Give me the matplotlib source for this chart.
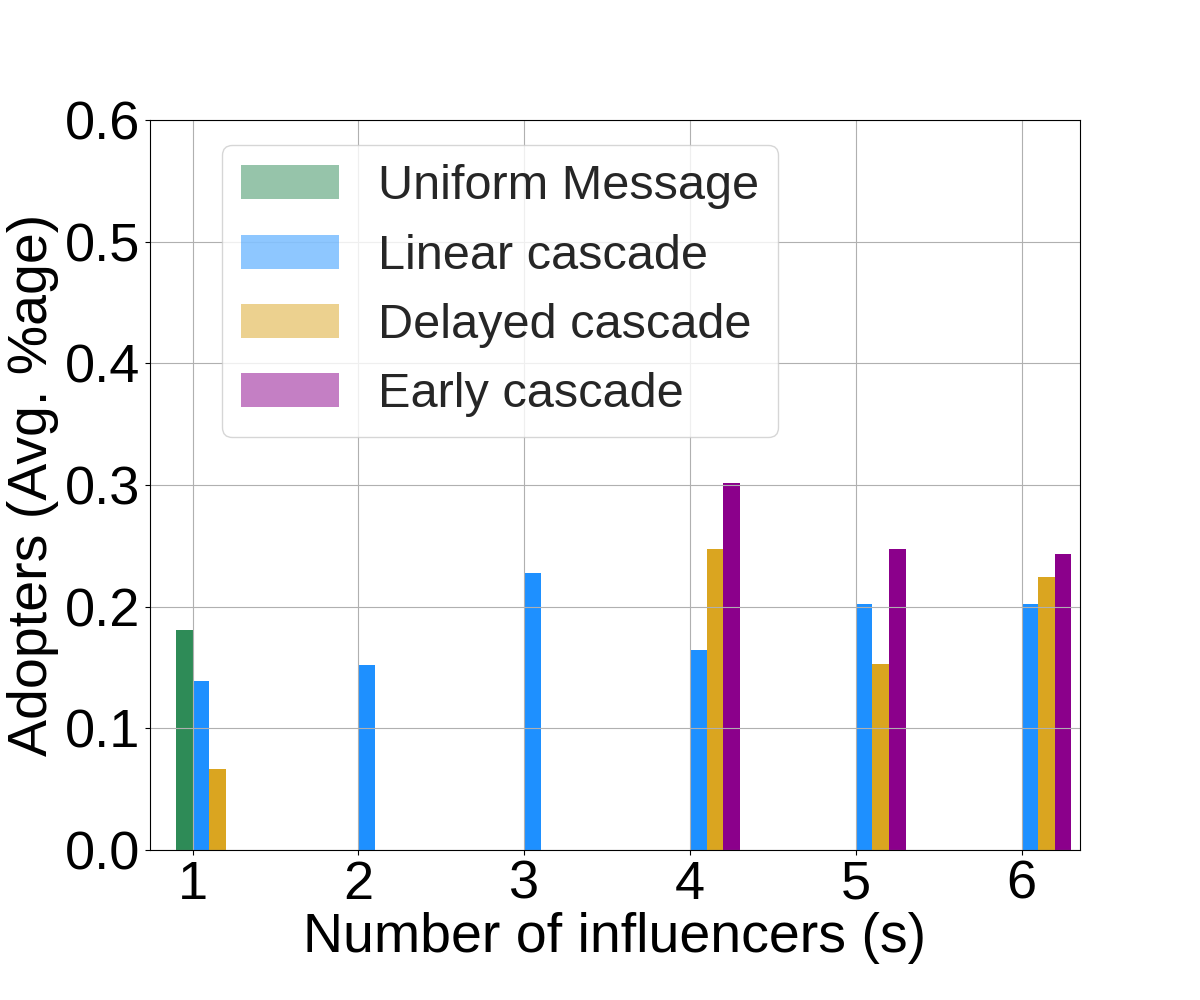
import matplotlib
matplotlib.use("Agg")
import matplotlib.pyplot as plt
from matplotlib.patches import Patch
import numpy as np

plt.rcParams['font.family'] = ['Liberation Sans', 'DejaVu Sans']

influencers = [1, 2, 3, 4, 5, 6]
uniform = [0.181, 0, 0, 0, 0, 0]
linear = [0.139, 0.152, 0.228, 0.164, 0.202, 0.202]
delayed = [0.0666, 0, 0, 0.247, 0.153, 0.224]
early = [0, 0, 0, 0.302, 0.247, 0.243]

labels = ['Uniform Message', 'Linear cascade', 'Delayed cascade', 'Early cascade']
colors = ['seagreen', 'dodgerblue', 'goldenrod', 'darkmagenta']

fig, ax = plt.subplots(figsize=(12, 10), dpi=100)
fig.subplots_adjust(bottom=0.15)

x = np.array(influencers)
w = 0.1
for i, vals in enumerate([uniform, linear, delayed, early]):
    ax.bar(x + (i - 0.5) * w, vals, width=w, color=colors[i])

ax.grid(True)
ax.set_xlim(0.743, 6.352)
ax.set_ylim(0, 0.6)
ax.set_xticks(influencers)
ax.set_yticks([0.0, 0.1, 0.2, 0.3, 0.4, 0.5, 0.6])
ax.tick_params(labelsize=39)
ax.set_xlabel('Number of influencers (s)', fontsize=40, labelpad=2)
ax.set_ylabel('Adopters (Avg. %age)', fontsize=40)

handles = [Patch(facecolor=c, alpha=0.5) for c in colors]
ax.legend(handles, labels, fontsize=35, loc='upper left',
          bbox_to_anchor=(0.0774, 0.966), borderaxespad=0,
          labelcolor='#262626')

plt.savefig('out.png')
